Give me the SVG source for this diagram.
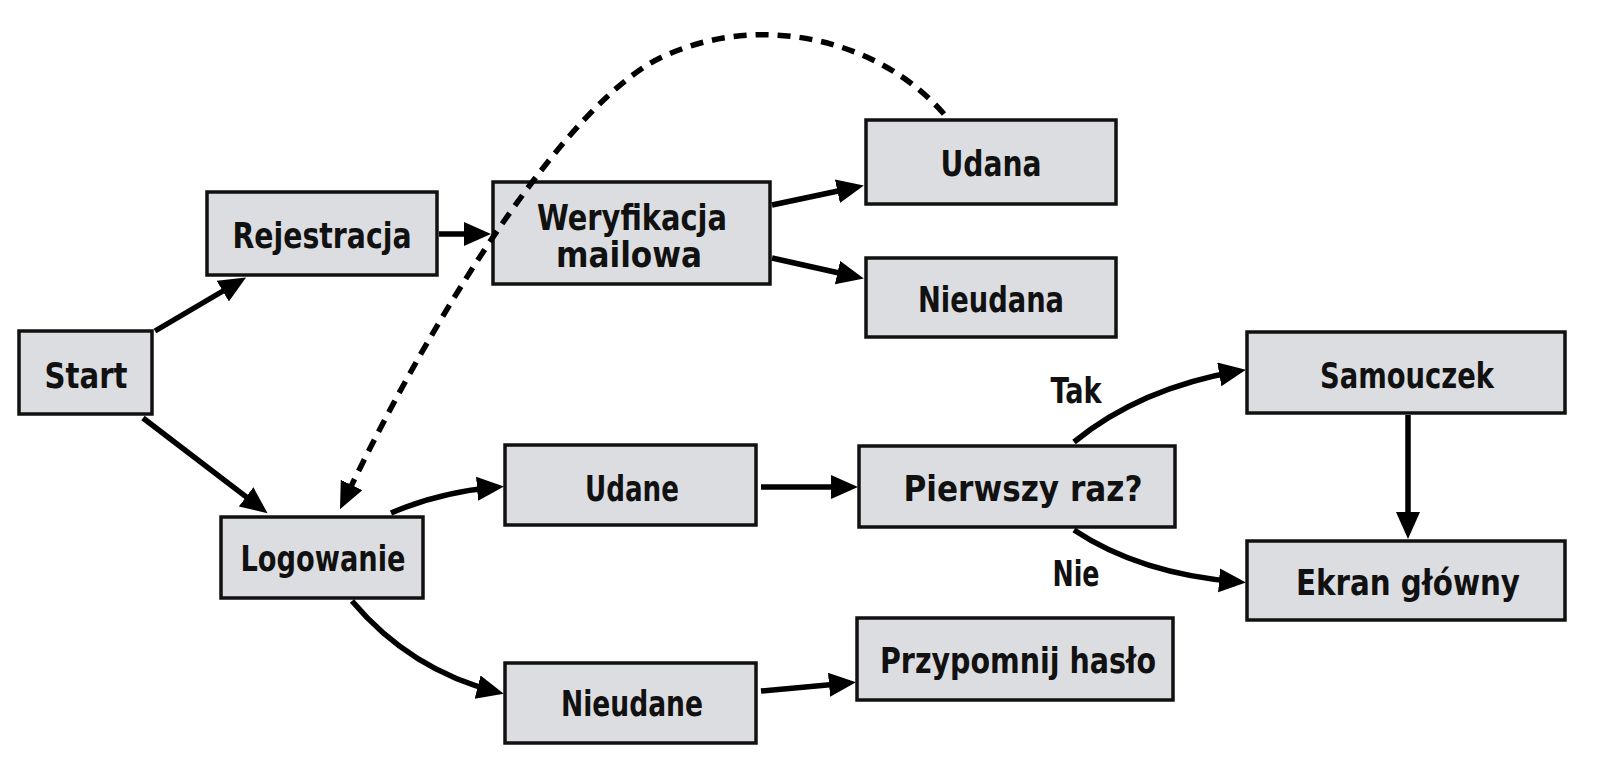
<svg xmlns="http://www.w3.org/2000/svg" width="1600" height="784" viewBox="0 0 1600 784">
<style>
  .box { fill: #dcdde0; stroke: #111; stroke-width: 3.5; }
  .lbl { font-family: "DejaVu Sans Condensed", "Liberation Sans Narrow", "DejaVu Sans", sans-serif; font-weight: bold; font-size: 36px; fill: #111; text-anchor: middle; }
  .edge { fill: none; stroke: #000; stroke-width: 5.5; }
  .dash { fill: none; stroke: #000; stroke-width: 5.5; stroke-dasharray: 13 9; }
</style>
<defs>
  <marker id="ah" markerUnits="userSpaceOnUse" markerWidth="30" markerHeight="26" refX="20" refY="12" orient="auto">
    <path d="M0,0 L27,12 L0,24 z" fill="#000"/>
  </marker>
</defs>
<rect width="1600" height="784" fill="#fff"/>

<g id="start">
  <rect class="box" x="19" y="331" width="133" height="83"/>
  <text class="lbl" x="86" y="388" textLength="83" lengthAdjust="spacingAndGlyphs">Start</text>
</g>
<g id="rejestracja">
  <rect class="box" x="207" y="192" width="230" height="83"/>
  <text class="lbl" x="322" y="248" textLength="179" lengthAdjust="spacingAndGlyphs">Rejestracja</text>
</g>
<g id="weryfikacja">
  <rect class="box" x="493" y="182" width="277" height="102"/>
  <text class="lbl" x="632" y="230" textLength="190" lengthAdjust="spacingAndGlyphs">Weryfikacja</text>
  <text class="lbl" x="629" y="267" textLength="146" lengthAdjust="spacingAndGlyphs">mailowa</text>
</g>
<g id="udana">
  <rect class="box" x="866" y="120" width="250" height="84"/>
  <text class="lbl" x="991" y="176" textLength="101" lengthAdjust="spacingAndGlyphs">Udana</text>
</g>
<g id="nieudana">
  <rect class="box" x="866" y="258" width="250" height="79"/>
  <text class="lbl" x="991" y="312" textLength="146" lengthAdjust="spacingAndGlyphs">Nieudana</text>
</g>
<g id="logowanie">
  <rect class="box" x="221" y="517" width="202" height="81"/>
  <text class="lbl" x="323" y="571" textLength="165" lengthAdjust="spacingAndGlyphs">Logowanie</text>
</g>
<g id="udane">
  <rect class="box" x="505" y="445" width="251" height="80"/>
  <text class="lbl" x="632" y="501" textLength="94" lengthAdjust="spacingAndGlyphs">Udane</text>
</g>
<g id="pierwszy">
  <rect class="box" x="859" y="446" width="316" height="81"/>
  <text class="lbl" x="1023" y="501" textLength="239" lengthAdjust="spacingAndGlyphs">Pierwszy raz?</text>
</g>
<g id="samouczek">
  <rect class="box" x="1247" y="332" width="318" height="81"/>
  <text class="lbl" x="1407" y="388" textLength="174" lengthAdjust="spacingAndGlyphs">Samouczek</text>
</g>
<g id="ekran">
  <rect class="box" x="1247" y="541" width="318" height="79"/>
  <text class="lbl" x="1408" y="595" textLength="224" lengthAdjust="spacingAndGlyphs">Ekran główny</text>
</g>
<g id="nieudane">
  <rect class="box" x="505" y="663" width="251" height="80"/>
  <text class="lbl" x="632" y="716" textLength="142" lengthAdjust="spacingAndGlyphs">Nieudane</text>
</g>
<g id="przypomnij">
  <rect class="box" x="857" y="618" width="316" height="82"/>
  <text class="lbl" x="1018" y="673" textLength="276" lengthAdjust="spacingAndGlyphs">Przypomnij hasło</text>
</g>

<g id="connectors">
  <path class="edge" d="M155,331 L240,281" marker-end="url(#ah)"/>
  <path class="edge" d="M143,418 L262,509" marker-end="url(#ah)"/>
  <path class="edge" d="M439,234 L484,234" marker-end="url(#ah)"/>
  <path class="edge" d="M772,205 L857,187" marker-end="url(#ah)"/>
  <path class="edge" d="M772,258 L857,277" marker-end="url(#ah)"/>
  <path class="edge" d="M391,513 Q440,492 497,487" marker-end="url(#ah)"/>
  <path class="edge" d="M761,487 L851,487" marker-end="url(#ah)"/>
  <path class="edge" d="M1074,442 Q1140,388 1239,371" marker-end="url(#ah)"/>
  <path class="edge" d="M1074,530 Q1140,574 1239,582" marker-end="url(#ah)"/>
  <path class="edge" d="M1408,415 L1408,532" marker-end="url(#ah)"/>
  <path class="edge" d="M352,601 Q410,670 497,692" marker-end="url(#ah)"/>
  <path class="edge" d="M761,691 L849,683" marker-end="url(#ah)"/>
  <path class="dash" d="M944,114 C880,40 760,10 660,58 C570,102 440,300 343,503" marker-end="url(#ah)"/>
  <text class="lbl" x="1076" y="403" textLength="51" lengthAdjust="spacingAndGlyphs">Tak</text>
  <text class="lbl" x="1076" y="586" textLength="47" lengthAdjust="spacingAndGlyphs">Nie</text>
</g>
</svg>
